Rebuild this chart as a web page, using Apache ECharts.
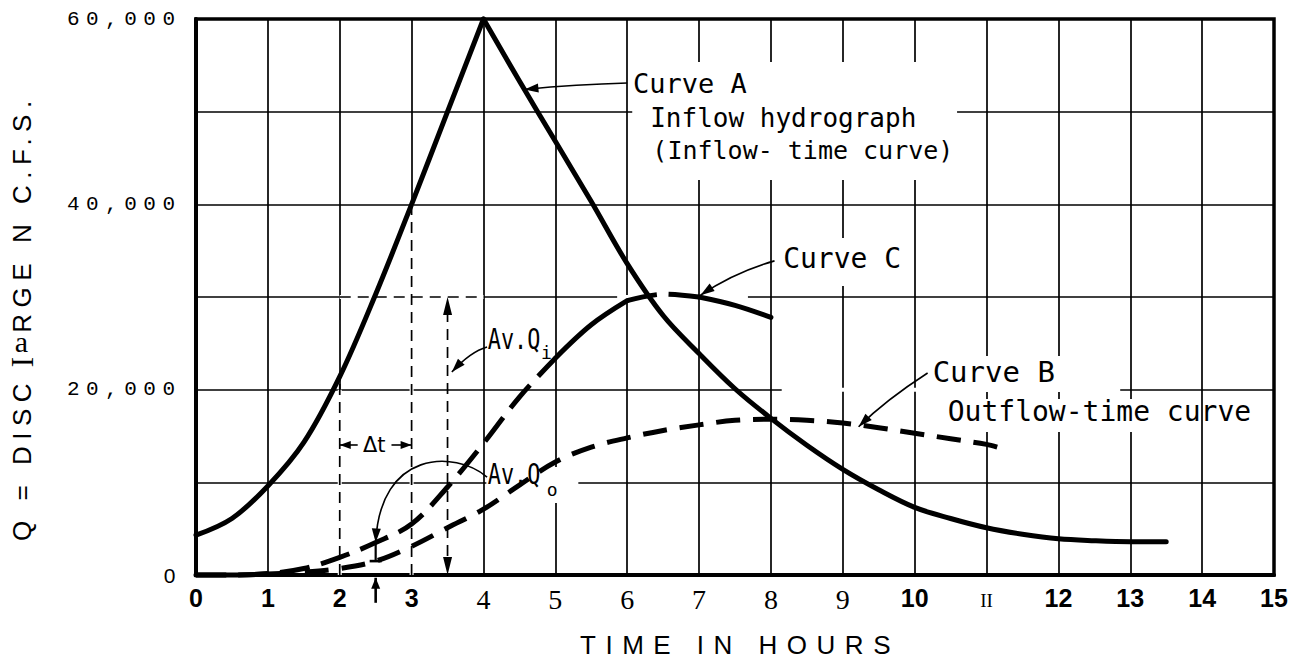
<!DOCTYPE html>
<html>
<head>
<meta charset="utf-8">
<script src="https://cdn.jsdelivr.net/npm/echarts@6/dist/echarts.min.js"></script>
<style>
  html, body { margin: 0; padding: 0; background: #fff; }
  #chart { width: 1291px; height: 666px; }
</style>
</head>
<body>
<div id="chart"></div>
<script>
// ---- Hydrograph readings: time in hours, discharge in c.f.s. ----
const hoursA  = [0, 0.5, 1, 1.5, 2, 2.5, 3, 3.5, 4, 4.5, 5, 5.5, 6, 6.5, 7, 7.5, 8, 8.5, 9, 9.5, 10, 10.5, 11, 11.5, 12, 12.5, 13, 13.5];
const inflowA = [4300, 6100, 9600, 14300, 21400, 30300, 40000, 50000, 60000, 53300, 46800, 40300, 33600, 28000, 23900, 20100, 16900, 14000, 11400, 9200, 7300, 6100, 5100, 4400, 3900, 3700, 3600, 3600];

const hoursB   = [0, 0.5, 1, 1.5, 2, 2.5, 3, 3.5, 4, 4.5, 5, 5.5, 6, 6.5, 7, 7.5, 8, 8.5, 9, 9.5, 10, 10.5, 11, 11.15];
const outflowB = [0, 0, 100, 300, 700, 1500, 3100, 5100, 7100, 9700, 12200, 13800, 14800, 15600, 16200, 16700, 16800, 16700, 16400, 15900, 15300, 14700, 14100, 13800];

const hoursC = [0, 0.5, 1, 1.5, 2, 2.5, 3, 3.5, 4, 4.5, 5, 5.5, 6, 6.5, 7, 7.5, 8];
const curveC = [0, 0, 150, 700, 1900, 3500, 5500, 9500, 14200, 19200, 23400, 27000, 29600, 30300, 30000, 29100, 27800];

// Tick labels
const xTickLabels = ['0', '1', '2', '3', '4', '5', '6', '7', '8', '9', '10', 'II', '12', '13', '14', '15'];
const yTickValues = [0, 20000, 40000, 60000];
const yTickLabels = ['0', '20,000', '40,000', '60,000'];

// Routing interval shown on the graph
const dtStart = 2, dtEnd = 3;        // the Δt interval
const avQiTime = 3.5, avQi = 30000;  // average inflow over Δt
const avQoTime = 2.5;                // mid-interval outflow pointer

const INK = '#000';
const MONO = "'DejaVu Sans Mono', monospace";
const SANS = "'Liberation Sans', Arial, sans-serif";
const SERIF = "'Liberation Serif', 'Times New Roman', serif";

function pairs(h, v, i0, i1) {
  const out = [];
  for (let i = i0; i <= i1; i++) out.push([h[i], v[i]]);
  return out;
}
function valueAt(h, v, t) {
  for (let i = 0; i < h.length - 1; i++) {
    if (t >= h[i] && t <= h[i + 1]) {
      const f = (t - h[i]) / (h[i + 1] - h[i]);
      return v[i] + f * (v[i + 1] - v[i]);
    }
  }
  return v[v.length - 1];
}

// Annotation layout, in chart (hours, c.f.s.) coordinates
const captions = [
  { text: 'Curve A', at: [6.08, 53040], size: 27 },
  { text: 'Inflow hydrograph', at: [6.32, 49320], size: 26 },
  { text: '(Inflow- time curve)', at: [6.35, 45860], size: 25 },
  { text: 'Curve C', at: [8.17, 34150], size: 28 },
  { text: 'Curve B', at: [10.25, 21900], size: 29 },
  { text: 'Outflow-time curve', at: [10.46, 17590], size: 28 }
];
const captionBoxes = [
  [6.07, 42620, 10.59, 55350],
  [8.13, 31180, 9.96, 36360],
  [10.19, 19750, 12.05, 23630],
  [10.39, 15430, 13.94, 18990],
  [4.04, 7770, 5.32, 11650]
];
const gridBreaks = [
  [8.15, 20000, 12.86, 20000],
  [5.86, 30000, 7.68, 30000]
];

const chart = echarts.init(document.getElementById('chart'), null, { renderer: 'svg', width: 1291, height: 666 });

// White paper under captions and under the dashed construction lines
function renderPaper(params, api) {
  const P = (h, q) => api.coord([h, q]);
  const kids = [];
  captionBoxes.forEach(b => {
    const a = P(b[0], b[1]), c = P(b[2], b[3]);
    kids.push({ type: 'rect', shape: { x: Math.min(a[0], c[0]), y: Math.min(a[1], c[1]), width: Math.abs(c[0] - a[0]), height: Math.abs(c[1] - a[1]) }, style: { fill: '#fff' } });
  });
  const erase = (a, b) => kids.push({ type: 'line', shape: { x1: a[0], y1: a[1], x2: b[0], y2: b[1] }, style: { stroke: '#fff', lineWidth: 4 } });
  gridBreaks.forEach(g => erase(P(g[0], g[1]), P(g[2], g[3])));
  const gridBelow = t => Math.floor(valueAt(hoursA, inflowA, t) / 10000) * 10000;
  erase(P(dtStart, 0), P(dtStart, gridBelow(dtStart)));
  erase(P(dtEnd, 0), P(dtEnd, gridBelow(dtEnd)));
  erase(P(dtStart, avQi), P(4, avQi));
  return { type: 'group', children: kids };
}

// Captions, pointers and construction lines
function renderNotes(params, api) {
  const P = (h, q) => api.coord([h, q]);
  const kids = [];
  const line = (a, b, w, dash) => kids.push({ type: 'line', shape: { x1: a[0], y1: a[1], x2: b[0], y2: b[1] }, style: { stroke: INK, lineWidth: w, lineDash: dash || null } });
  const head = (from, tip, len, hw) => {
    const dx = tip[0] - from[0], dy = tip[1] - from[1];
    const L = Math.hypot(dx, dy) || 1, ux = dx / L, uy = dy / L;
    const bx = tip[0] - ux * len, by = tip[1] - uy * len;
    kids.push({ type: 'polygon', shape: { points: [tip, [bx - uy * hw, by + ux * hw], [bx + uy * hw, by - ux * hw]] }, style: { fill: INK } });
  };
  const curveArrow = (s, c1, c2, t) => {
    const shape = { x1: s[0], y1: s[1], x2: t[0], y2: t[1], cpx1: c1[0], cpy1: c1[1] };
    if (c2) { shape.cpx2 = c2[0]; shape.cpy2 = c2[1]; }
    kids.push({ type: 'bezierCurve', shape, style: { stroke: INK, fill: null, lineWidth: 1.6 } });
    head(c2 || c1, t, 14, 4.5);
  };
  const text = (str, at, o) => {
    const p = P(at[0], at[1]);
    kids.push({
      type: 'text', x: p[0], y: p[1], rotation: o.rotation || 0, scaleX: o.scaleX || 1,
      style: { text: str, fill: INK, fontSize: o.size, fontFamily: o.family || MONO, fontWeight: o.weight || 'normal', align: o.align || 'left', verticalAlign: 'middle' }
    });
  };

  const dash = [11, 7];
  const aStart = valueAt(hoursA, inflowA, dtStart);
  const aEnd = valueAt(hoursA, inflowA, dtEnd);
  // Δt construction lines
  line(P(dtStart, 0), P(dtStart, aStart), 1.7, dash);
  line(P(dtEnd, 0), P(dtEnd, aEnd), 1.7, dash);
  line(P(dtStart, avQi), P(4, avQi), 1.7, dash);
  // average inflow ordinate with arrows at both ends
  const qiTop = P(avQiTime, avQi), qiBot = P(avQiTime, 0);
  line([qiTop[0], qiTop[1] + 14], [qiBot[0], qiBot[1] - 14], 1.7, dash);
  head([qiTop[0], qiTop[1] + 30], qiTop, 18, 4.5);
  head([qiBot[0], qiBot[1] - 30], qiBot, 18, 4.5);

  // Δt span arrows
  const dtLevel = 14030;
  line(P(2.25, dtLevel), P(dtStart, dtLevel), 1.6);
  head(P(2.25, dtLevel), P(dtStart, dtLevel), 11, 4);
  line(P(2.72, dtLevel), P(dtEnd, dtLevel), 1.6);
  head(P(2.72, dtLevel), P(dtEnd, dtLevel), 11, 4);
  text('Δt', [2.48, dtLevel], { size: 21, family: "'DejaVu Sans', sans-serif", align: 'center' });

  // Av.Qi caption and pointer
  text('Av.Q', [4.06, 25360], { size: 28, scaleX: 0.78 });
  text('i', [4.80, 23960], { size: 18 });
  curveArrow(P(4.05, 24600), P(3.82, 24100), null, P(3.56, 21900));

  // Av.Qo caption, pointer and bracket between curves C and B
  text('Av.Q', [4.06, 10790], { size: 28, scaleX: 0.78 });
  text('o', [4.88, 9280], { size: 18 });
  const cMid = valueAt(hoursC, curveC, avQoTime);
  const bMid = valueAt(hoursB, outflowB, avQoTime);
  curveArrow(P(4.05, 10570), P(3.6, 13500), P(2.56, 13500), P(avQoTime, cMid));
  const cm = P(avQoTime, cMid), bm = P(avQoTime, bMid);
  line(cm, bm, 2.2);
  line([bm[0] - 6, bm[1]], [bm[0] + 6, bm[1]], 2.6);
  // pointer under the time axis
  const up1 = P(avQoTime, -3000), up2 = P(avQoTime, -300);
  line(up1, up2, 2.6);
  head(up1, up2, 11, 4.5);

  // curve captions and their pointers
  captions.forEach(c => text(c.text, c.at, { size: c.size }));
  curveArrow(P(6.0, 53090), P(5.3, 52950), null, P(4.57, 52400));
  curveArrow(P(8.05, 33900), P(7.5, 32700), null, P(7.02, 30200));
  curveArrow(P(10.18, 21800), P(9.6, 18900), null, P(9.22, 16000));

  // vertical axis title
  text('Q = DISC', [-2.42, 12520], { size: 26, family: SANS, rotation: Math.PI / 2, align: 'center' });
  text('I', [-2.42, 22980], { size: 31, family: SERIF, rotation: Math.PI / 2, align: 'center' });
  text('a', [-2.43, 25250], { size: 30, family: SERIF, align: 'center' });
  text('RGE N C.F.S.', [-2.42, 39010], { size: 26, family: SANS, rotation: Math.PI / 2, align: 'center' });

  return { type: 'group', children: kids };
}

function curve(name, data, dash) {
  return {
    type: 'line', name, data, smooth: 0.35, symbol: 'none', clip: false, silent: true, z: 3,
    lineStyle: { color: INK, width: 5, type: dash || 'solid', cap: dash ? 'butt' : 'round', join: 'round' }
  };
}

const iPeak = hoursA.indexOf(4);
const iB1 = hoursB.indexOf(1);
const iC5 = hoursC.indexOf(5), iC6 = hoursC.indexOf(6), iC7 = hoursC.indexOf(7);
const dashB = [24, 13], dashC = [30, 12];

const option = {
  animation: false,
  backgroundColor: '#fff',
  grid: { left: 196, right: 17, top: 19, bottom: 91, show: true, borderColor: INK, borderWidth: 3.5 },
  xAxis: {
    type: 'value', min: 0, max: 15, interval: 1,
    name: 'TIME IN HOURS', nameLocation: 'middle', nameGap: 57,
    nameTextStyle: { fontFamily: SANS, fontSize: 26, color: INK, padding: [0, 0, 0, 10] },
    axisLine: { show: true, onZero: false, lineStyle: { color: INK, width: 4 } },
    axisTick: { show: false },
    splitLine: { show: true, lineStyle: { color: INK, width: 1.7 } },
    axisLabel: {
      margin: 10, color: INK,
      formatter: v => {
        const i = Math.round(v), t = xTickLabels[i];
        const k = (i >= 4 && i <= 9) ? 's' : (t === 'II' ? 'r' : 'b');
        return '{' + k + '|' + t + '}';
      },
      rich: {
        b: { fontFamily: SANS, fontWeight: 'bold', fontSize: 25, color: INK },
        s: { fontFamily: SERIF, fontSize: 28, color: INK },
        r: { fontFamily: SERIF, fontSize: 19, color: INK, padding: [6, 0, 0, 0] }
      }
    }
  },
  yAxis: {
    type: 'value', min: 0, max: 60000, interval: 10000,
    axisLine: { show: true, lineStyle: { color: INK, width: 4 } },
    axisTick: { show: false },
    splitLine: { show: true, lineStyle: { color: INK, width: 1.7 } },
    axisLabel: {
      margin: 14.5, fontFamily: "'Liberation Mono', monospace", fontSize: 21, color: INK,
      formatter: v => {
        const i = yTickValues.indexOf(v);
        if (i < 0) return '';
        return v === 0 ? '{z|' + yTickLabels[i] + '}' : yTickLabels[i];
      },
      rich: { z: { fontFamily: SANS, fontSize: 21, color: INK, padding: [0, 6, 0, 0] } }
    }
  },
  series: [
    { type: 'custom', name: 'paper', coordinateSystem: 'cartesian2d', data: [[0, 0]], encode: { x: 0, y: 1 }, renderItem: renderPaper, silent: true, z: 2 },
    curve('Curve A', pairs(hoursA, inflowA, 0, iPeak)),
    curve('Curve A', pairs(hoursA, inflowA, iPeak, hoursA.length - 1)),
    curve('Curve B', pairs(hoursB, outflowB, 0, iB1)),
    curve('Curve B', pairs(hoursB, outflowB, iB1, hoursB.length - 1), dashB),
    curve('Curve C', pairs(hoursC, curveC, 0, iC5), dashC),
    curve('Curve C', pairs(hoursC, curveC, iC5, iC6)),
    curve('Curve C', pairs(hoursC, curveC, iC6, iC7), dashC),
    curve('Curve C', pairs(hoursC, curveC, iC7, hoursC.length - 1)),
    { type: 'custom', name: 'notes', coordinateSystem: 'cartesian2d', data: [[0, 0]], encode: { x: 0, y: 1 }, renderItem: renderNotes, silent: true, z: 4 }
  ]
};

chart.setOption(option);

// Letter spacing for the widely tracked lettering
const tracking = { 'TIME IN HOURS': 9.5, 'Q = DISC': 6.5, 'RGE N C.F.S.': 6.5, '60,000': 6.5, '40,000': 6.5, '20,000': 6.5 };
function applyTracking() {
  document.querySelectorAll('#chart text').forEach(t => {
    const s = t.textContent;
    if (tracking[s] != null) t.style.letterSpacing = tracking[s] + 'px';
  });
}
chart.on('finished', applyTracking);
applyTracking();
</script>
</body>
</html>
